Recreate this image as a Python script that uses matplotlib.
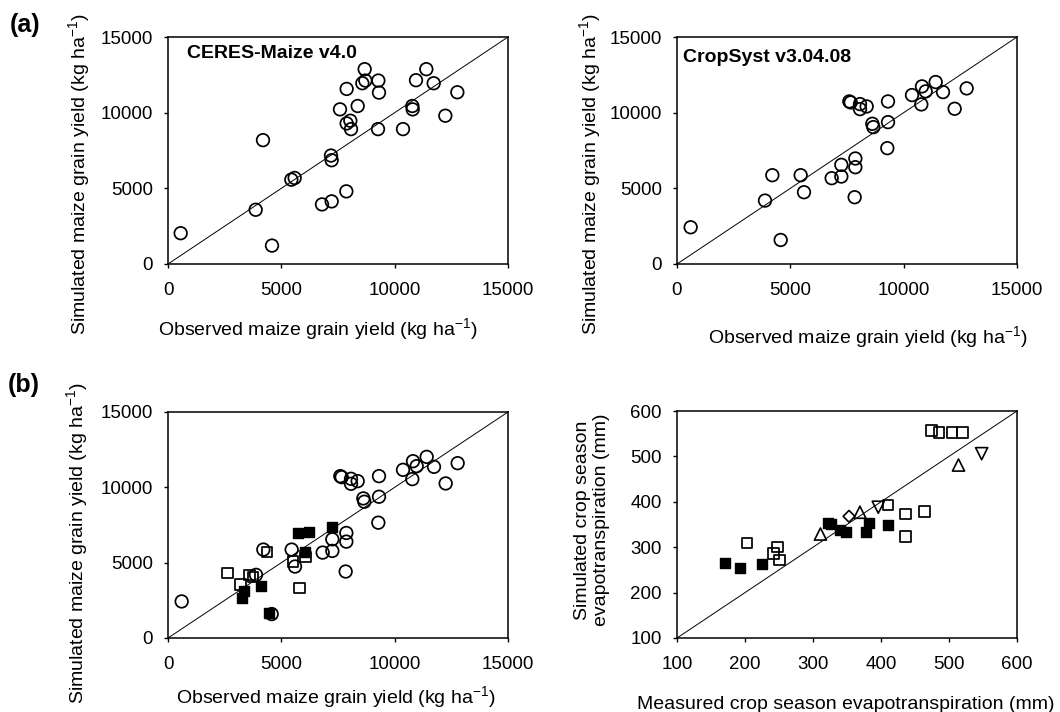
import numpy as np
import matplotlib
matplotlib.use('Agg')
import matplotlib.pyplot as plt

# Fuente tipo Arial
plt.rcParams['font.family'] = ['Liberation Sans', 'DejaVu Sans']
plt.rcParams['mathtext.fontset'] = 'custom'
plt.rcParams['mathtext.rm'] = 'Liberation Sans'
plt.rcParams['mathtext.it'] = 'Liberation Sans:italic'
plt.rcParams['mathtext.bf'] = 'Liberation Sans:bold'

# ---- Datos ----
# (a) CERES-Maize v4.0: observado vs simulado (kg/ha)
ceres_obs = [559, 3868, 4191, 4588, 5441, 5588, 6794, 7221, 7191, 7221, 7868,
             7588, 7882, 7882, 8044, 8074, 8368, 8574, 8676, 8706, 9280, 9309,
             9265, 10368, 10780, 10794, 10941, 11397, 11721, 12235, 12765]
ceres_sim = [2035, 3584, 8185, 1217, 5574, 5685, 3937, 4137, 7167, 6857, 4800,
             10219, 11569, 9290, 9468, 8914, 10441, 11945, 12874, 12122, 12122, 11326,
             8914, 8914, 10441, 10219, 12144, 12874, 11945, 9799, 11348]

# (a) CropSyst v3.04.08
crop_obs = [603, 3882, 4206, 4574, 5456, 5603, 6824, 7250, 7250, 7868, 7868,
            7838, 7603, 7662, 8074, 8074, 8368, 8618, 8662, 9309, 9309, 9279,
            10368, 10779, 10809, 10971, 11412, 11735, 12250, 12779]
crop_sim = [2427, 4191, 5868, 1588, 5868, 4743, 5669, 5780, 6552, 6397, 6971,
            4412, 10743, 10677, 10567, 10236, 10412, 9265, 9045, 10743, 9375, 7655,
            11162, 10545, 11736, 11405, 12023, 11361, 10258, 11604]

# (b) rendimiento: otros conjuntos (cuadrados)
sq_open_obs = [2632, 3191, 3603, 3750, 4368, 5809, 5515, 6059]
sq_open_sim = [4333, 3555, 4177, 4066, 5711, 3333, 5066, 5377]
sq_fill_obs = [3279, 3353, 4088, 4441, 5735, 6206, 6044, 7221]
sq_fill_sim = [2666, 3111, 3422, 1644, 6955, 7022, 5733, 7377]

# (b) evapotranspiracion (mm)
et_sq_open_obs = [474, 485, 504, 520, 203, 248, 242, 251, 410, 436, 464, 436]
et_sq_open_sim = [557, 553, 553, 553, 309, 301, 286, 272, 393, 373, 379, 324]
et_sq_fill_obs = [170, 193, 225, 322, 326, 339, 348, 378, 382, 411]
et_sq_fill_sim = [265, 254, 264, 354, 352, 338, 333, 334, 354, 349]
et_up_obs = [311, 369, 514]
et_up_sim = [329, 377, 481]
et_down_obs = [396, 548]
et_down_sim = [388, 506]
et_dia_obs = [353]
et_dia_sim = [368]

yield_ticks = [0, 5000, 10000, 15000]
et_ticks = [100, 200, 300, 400, 500, 600]

W, H = 1060, 712


def px(x, y):
    # pixeles (desde arriba a la izquierda) a fraccion de figura
    return x / W, 1 - y / H


def make_axes(fig, left, top, right, bottom):
    ax = fig.add_axes([left / W, 1 - bottom / H, (right - left) / W, (bottom - top) / H])
    for s in ax.spines.values():
        s.set_linewidth(1.1)
    ax.tick_params(direction='out', length=3, width=1.0, labelsize=13.5)
    ax.tick_params(axis='x', pad=10)
    ax.tick_params(axis='y', pad=8)
    return ax


def style_yield(ax):
    ax.set_xlim(0, 15000)
    ax.set_ylim(0, 15000)
    ax.set_xticks(yield_ticks)
    ax.set_yticks(yield_ticks)
    ax.axline((0, 0), slope=1, color='black', lw=0.7, zorder=1)


circ = dict(marker='o', s=82, facecolors='none', edgecolors='black', linewidths=1.25, zorder=3)
sq_o = dict(marker='s', s=56, facecolors='none', edgecolors='black', linewidths=1.25, zorder=3)
sq_f = dict(marker='s', s=60, facecolors='black', edgecolors='black', linewidths=1.0, zorder=4)

fig = plt.figure(figsize=(10.6, 7.12), dpi=100)

ylab_yield = 'Simulated maize grain yield (kg ha$^{-1}$)'
xlab_yield = 'Observed maize grain yield (kg ha$^{-1}$)'

# --- (a) CERES-Maize ---
ax1 = make_axes(fig, 168, 37, 508, 264)
style_yield(ax1)
ax1.scatter(ceres_obs, ceres_sim, **circ)
ax1.text(0.056, 0.907, 'CERES-Maize v4.0', transform=ax1.transAxes,
         fontsize=14, fontweight='bold', va='baseline')

# --- (a) CropSyst ---
ax2 = make_axes(fig, 677, 37, 1017, 264)
style_yield(ax2)
ax2.scatter(crop_obs, crop_sim, **circ)
ax2.text(0.018, 0.89, 'CropSyst v3.04.08', transform=ax2.transAxes,
         fontsize=14, fontweight='bold', va='baseline')

# --- (b) rendimiento ---
ax3 = make_axes(fig, 168, 412, 508, 638)
style_yield(ax3)
ax3.scatter(crop_obs, crop_sim, **circ)
ax3.scatter(sq_open_obs, sq_open_sim, **sq_o)
ax3.scatter(sq_fill_obs, sq_fill_sim, **sq_f)

# --- (b) evapotranspiracion ---
ax4 = make_axes(fig, 677, 411, 1017, 638)
ax4.set_xlim(100, 600)
ax4.set_ylim(100, 600)
ax4.set_xticks(et_ticks)
ax4.set_yticks(et_ticks)
ax4.axline((100, 100), slope=1, color='black', lw=0.7, zorder=1)
ax4.scatter(et_sq_open_obs, et_sq_open_sim, **sq_o)
ax4.scatter(et_sq_fill_obs, et_sq_fill_sim, **sq_f)
ax4.scatter(et_up_obs, et_up_sim, marker='^', s=76, facecolors='none',
            edgecolors='black', linewidths=1.2, zorder=3)
ax4.scatter(et_down_obs, et_down_sim, marker='v', s=76, facecolors='none',
            edgecolors='black', linewidths=1.2, zorder=3)
ax4.scatter(et_dia_obs, et_dia_sim, marker='D', s=36, facecolors='none',
            edgecolors='black', linewidths=1.2, zorder=3)

# Etiquetas de ejes
fig.text(*px(318, 335), xlab_yield, ha='center', va='baseline', fontsize=14)
fig.text(*px(868, 343), xlab_yield, ha='center', va='baseline', fontsize=14)
fig.text(*px(336, 703), xlab_yield, ha='center', va='baseline', fontsize=14)
fig.text(*px(846, 709), 'Measured crop season evapotranspiration (mm)',
         ha='center', va='baseline', fontsize=14)

fig.text(*px(79, 174), ylab_yield, rotation=90, ha='center', va='center', fontsize=14)
fig.text(*px(590, 174), ylab_yield, rotation=90, ha='center', va='center', fontsize=14)
fig.text(*px(77, 543), ylab_yield, rotation=90, ha='center', va='center', fontsize=14)
fig.text(*px(592, 520), 'Simulated crop season\nevapotranspiration (mm)', rotation=90,
         ha='center', va='center', fontsize=14, multialignment='center')

# Letras de panel
fig.text(*px(10, 32), '(a)', fontsize=18, fontweight='bold', va='baseline')
fig.text(*px(8, 392), '(b)', fontsize=18, fontweight='bold', va='baseline')

fig.savefig('out.png', dpi=100)
